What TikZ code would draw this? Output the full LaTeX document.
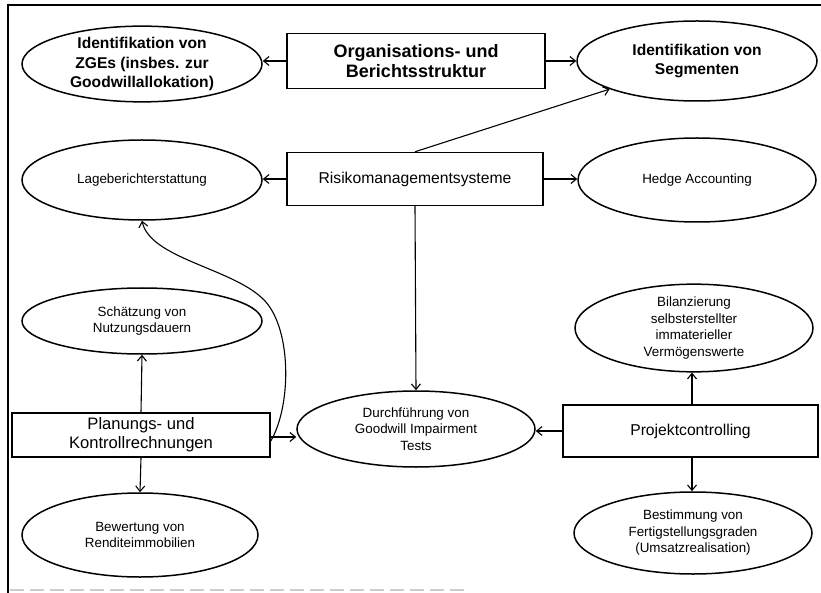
\documentclass[tikz,border=0pt]{standalone}
\usepackage{fontspec}
\setmainfont{Liberation Sans}
\usetikzlibrary{shapes.geometric,arrows.meta}
\begin{document}
\begin{tikzpicture}[x=1pt,y=-1pt,
  oval/.style={ellipse,draw,line width=1.5pt,inner sep=0pt,align=center,
    font=\fontsize{13.4}{16.5}\selectfont},
  boldoval/.style={oval,font=\bfseries\fontsize{15.6}{19.5}\selectfont},
  panel/.style={rectangle,draw,line width=1.5pt,inner sep=0pt,align=center,
    font=\fontsize{15.7}{19}\selectfont},
  link/.style={line width=1.1pt,-{Straight Barb[length=5.5pt,width=9pt,line width=1.1pt]}}]
\useasboundingbox (0,0) rectangle (821,593);

% frame
\draw[line width=1.4pt] (8,593) -- (8,5) -- (821,5);
\draw[black!20,line width=1.2pt,dash pattern=on 14pt off 6pt] (10,590) -- (470,590);

% top row
\node[boldoval,minimum width=240pt,minimum height=72pt] (zge) at (142,64)
  {Identifikation von\\ZGEs (insbes. zur\\Goodwillallokation)};
\node[panel,minimum width=258pt,minimum height=55pt,
  font=\bfseries\fontsize{18}{20.5}\selectfont] (org) at (416,61)
  {Organisations- und\\Berichtsstruktur};
\node[boldoval,minimum width=240pt,minimum height=80pt] (seg) at (697,61)
  {Identifikation von\\Segmenten};

% second row
\node[oval,minimum width=240pt,minimum height=80pt] (lage) at (142,180)
  {Lageberichterstattung};
\node[panel,minimum width=256pt,minimum height=53pt] (risk) at (415,179)
  {Risikomanagementsysteme};
\node[oval,minimum width=238pt,minimum height=84pt] (hedge) at (697,180)
  {Hedge Accounting};

% third row
\node[oval,minimum width=240pt,minimum height=66pt] (schatz) at (142,321)
  {Schätzung von\\Nutzungsdauern};
\node[oval,minimum width=238pt,minimum height=80pt] (bil) at (694,328)
  {Bilanzierung\\selbsterstellter\\immaterieller\\Vermögenswerte};

% fourth row
\node[panel,minimum width=258pt,minimum height=44pt,
  font=\fontsize{16.6}{19}\selectfont] (plan) at (141,435)
  {Planungs- und\\Kontrollrechnungen};
\node[oval,minimum width=238pt,minimum height=76pt] (durch) at (416,429)
  {Durchführung von\\Goodwill Impairment\\Tests};
\node[panel,minimum width=255pt,minimum height=52pt] (proj) at (690.5,431)
  {Projektcontrolling};

% bottom row
\node[oval,minimum width=236pt,minimum height=84pt] (bew) at (140,535)
  {Bewertung von\\Renditeimmobilien};
\node[oval,minimum width=238pt,minimum height=82pt] (best) at (693,533)
  {Bestimmung von\\Fertigstellungsgraden\\(Umsatzrealisation)};

% connectors
\draw[link] (org.west) -- (org.west -| zge.east);
\draw[link] (org.east) -- (org.east -| seg.west);
\draw[link] (risk.north) -- (seg);
\draw[link] (risk.west) -- (risk.west -| lage.east);
\draw[link] (risk.east) -- (risk.east -| hedge.west);
\draw[link] (risk.south) -- (durch.north);
\draw[link] (plan.north) -- (schatz.south);
\draw[link] (plan.south) -- (bew.north);
\draw[link] ([yshift=-2pt]plan.east) -- ([yshift=-2pt]plan.east -| durch.west);
\draw[link] (proj.west) -- (proj.west -| durch.east);
\draw[link] ([xshift=1.5pt]proj.north) -- ([xshift=1.5pt]proj.north |- bil.south);
\draw[link] ([xshift=1.5pt]proj.south) -- ([xshift=1.5pt]proj.south |- best.north);
\draw[link] ([yshift=-6pt]plan.east) .. controls (292,405) and (292,325) .. (262,298)
  .. controls (230,268) and (150,258) .. (lage.south);
\end{tikzpicture}
\end{document}
